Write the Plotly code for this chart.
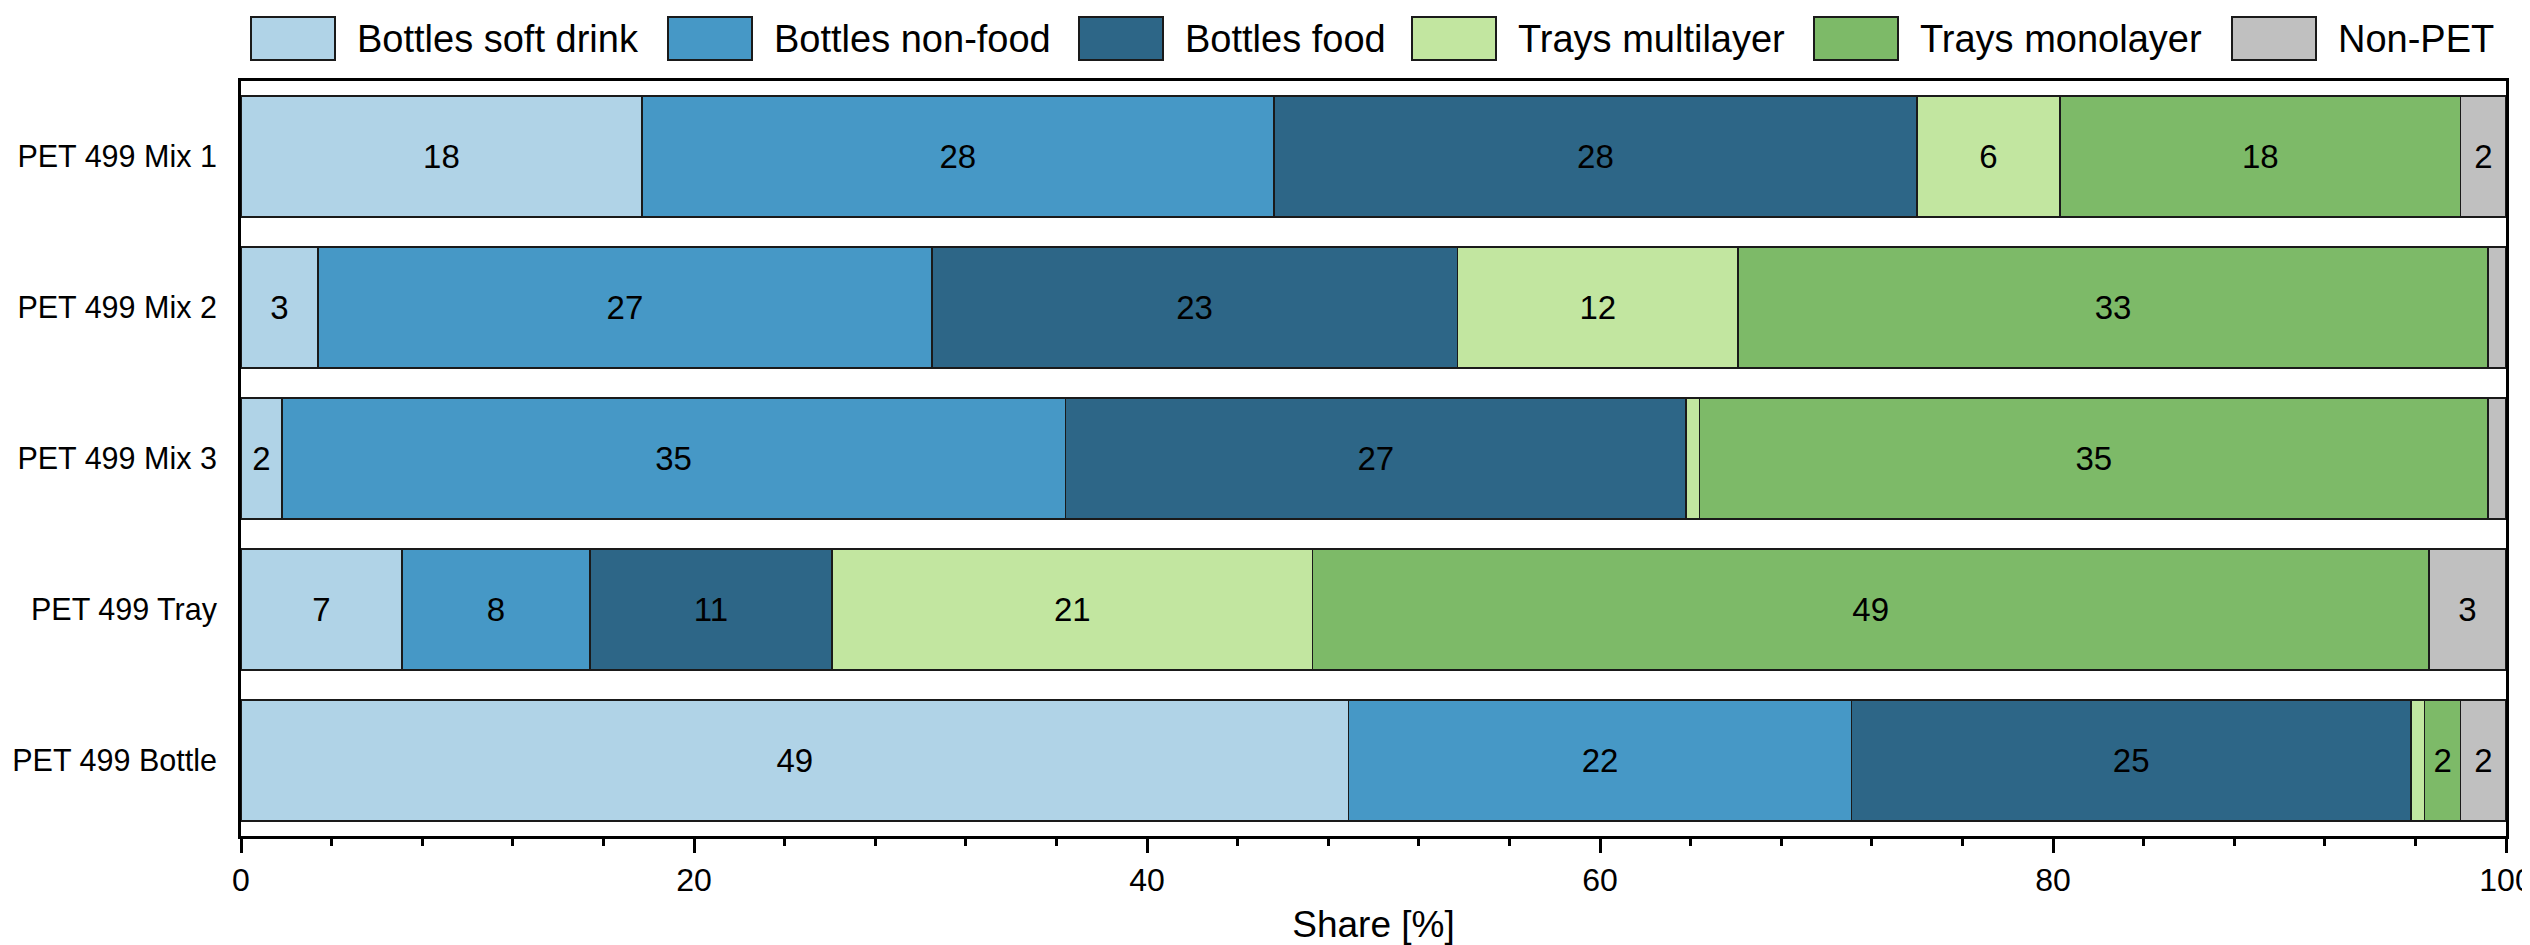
import plotly.graph_objects as go

# ---- data ----
samples = ["PET 499 Mix 1", "PET 499 Mix 2", "PET 499 Mix 3", "PET 499 Tray", "PET 499 Bottle"]
series_names = ["Bottles soft drink", "Bottles non-food", "Bottles food",
                "Trays multilayer", "Trays monolayer", "Non-PET"]
bottles_soft_drink = [17.7, 3.4, 1.8, 7.1, 48.9]
bottles_non_food = [27.9, 27.1, 34.6, 8.3, 22.2]
bottles_food = [28.4, 23.2, 27.4, 10.7, 24.7]
trays_multilayer = [6.3, 12.4, 0.6, 21.2, 0.6]
trays_monolayer = [17.7, 33.1, 34.8, 49.3, 1.6]
non_pet = [2.0, 0.8, 0.8, 3.4, 2.0]
x_tick_values = [0, 20, 40, 60, 80, 100]

series_values = [bottles_soft_drink, bottles_non_food, bottles_food,
                 trays_multilayer, trays_monolayer, non_pet]

# ---- style ----
colors = ["#b0d3e7", "#4698c6", "#2d6687", "#c2e6a0", "#7dba68", "#c0c0c0"]
FONT = "Liberation Sans, Arial, sans-serif"
W, H = 2530, 945
ML, MR, MT, MB = 233, 32, 73, 117
PW, PH = W - ML - MR, H - MT - MB

fig = go.Figure()
for name, vals, col in zip(series_names, series_values, colors):
    texts = [str(int(round(v))) if v >= 1 else "" for v in vals]
    fig.add_trace(go.Bar(
        y=samples, x=vals, name=name, orientation="h",
        marker=dict(color=col, line=dict(color="#1a1a1a", width=1.5)),
        text=texts, textposition="inside", insidetextanchor="middle",
        textangle=0, textfont=dict(family=FONT, size=33, color="black"),
        constraintext="none", showlegend=False, hoverinfo="x+y+name",
    ))

# ---- manual legend (large boxes like the reference) ----
legend_box_left_px = [243, 660, 1071, 1404, 1806, 2224]
box_w, box_top, box_bot = 84, 9, 52


def px_x(p):
    return (p - ML) / PW


def px_y(p):
    return (H - MB - p) / PH


for name, col, left in zip(series_names, colors, legend_box_left_px):
    fig.add_shape(type="rect", xref="paper", yref="paper",
                  x0=px_x(left), x1=px_x(left + box_w),
                  y0=px_y(box_bot), y1=px_y(box_top),
                  fillcolor=col, line=dict(color="#1a1a1a", width=2))
    fig.add_annotation(xref="paper", yref="paper",
                       x=px_x(left + box_w + 20), y=px_y((box_top + box_bot) / 2),
                       xanchor="left", yanchor="middle", text=name, showarrow=False,
                       font=dict(family=FONT, size=38, color="black"))

fig.update_layout(
    width=W, height=H, autosize=False,
    margin=dict(l=ML, r=MR, t=MT, b=MB, pad=0, autoexpand=False),
    barmode="stack", bargap=0.2,
    plot_bgcolor="white", paper_bgcolor="white",
    font=dict(family=FONT, color="black", size=32),
    showlegend=False,
)
fig.update_xaxes(
    range=[0, 100], tickvals=x_tick_values, ticks="outside", ticklen=14, tickwidth=2.5,
    tickcolor="black", showline=True, linewidth=3, linecolor="black", mirror=True,
    showgrid=False, zeroline=False, automargin=False,
    tickfont=dict(family=FONT, size=32, color="black"),
    minor=dict(dtick=4, ticks="outside", ticklen=7, tickwidth=2.5, tickcolor="black",
               showgrid=False),
    title=dict(text="Share [%]", font=dict(family=FONT, size=37, color="black"), standoff=14),
)
fig.update_yaxes(
    type="category", categoryorder="array", categoryarray=samples,
    range=[4.5, -0.5], ticks="", showline=True, linewidth=3, linecolor="black",
    mirror=True, showgrid=False, zeroline=False, ticklabelstandoff=15, automargin=False,
    tickfont=dict(family=FONT, size=30.5, color="black"),
)

fig.write_html("out.html")
